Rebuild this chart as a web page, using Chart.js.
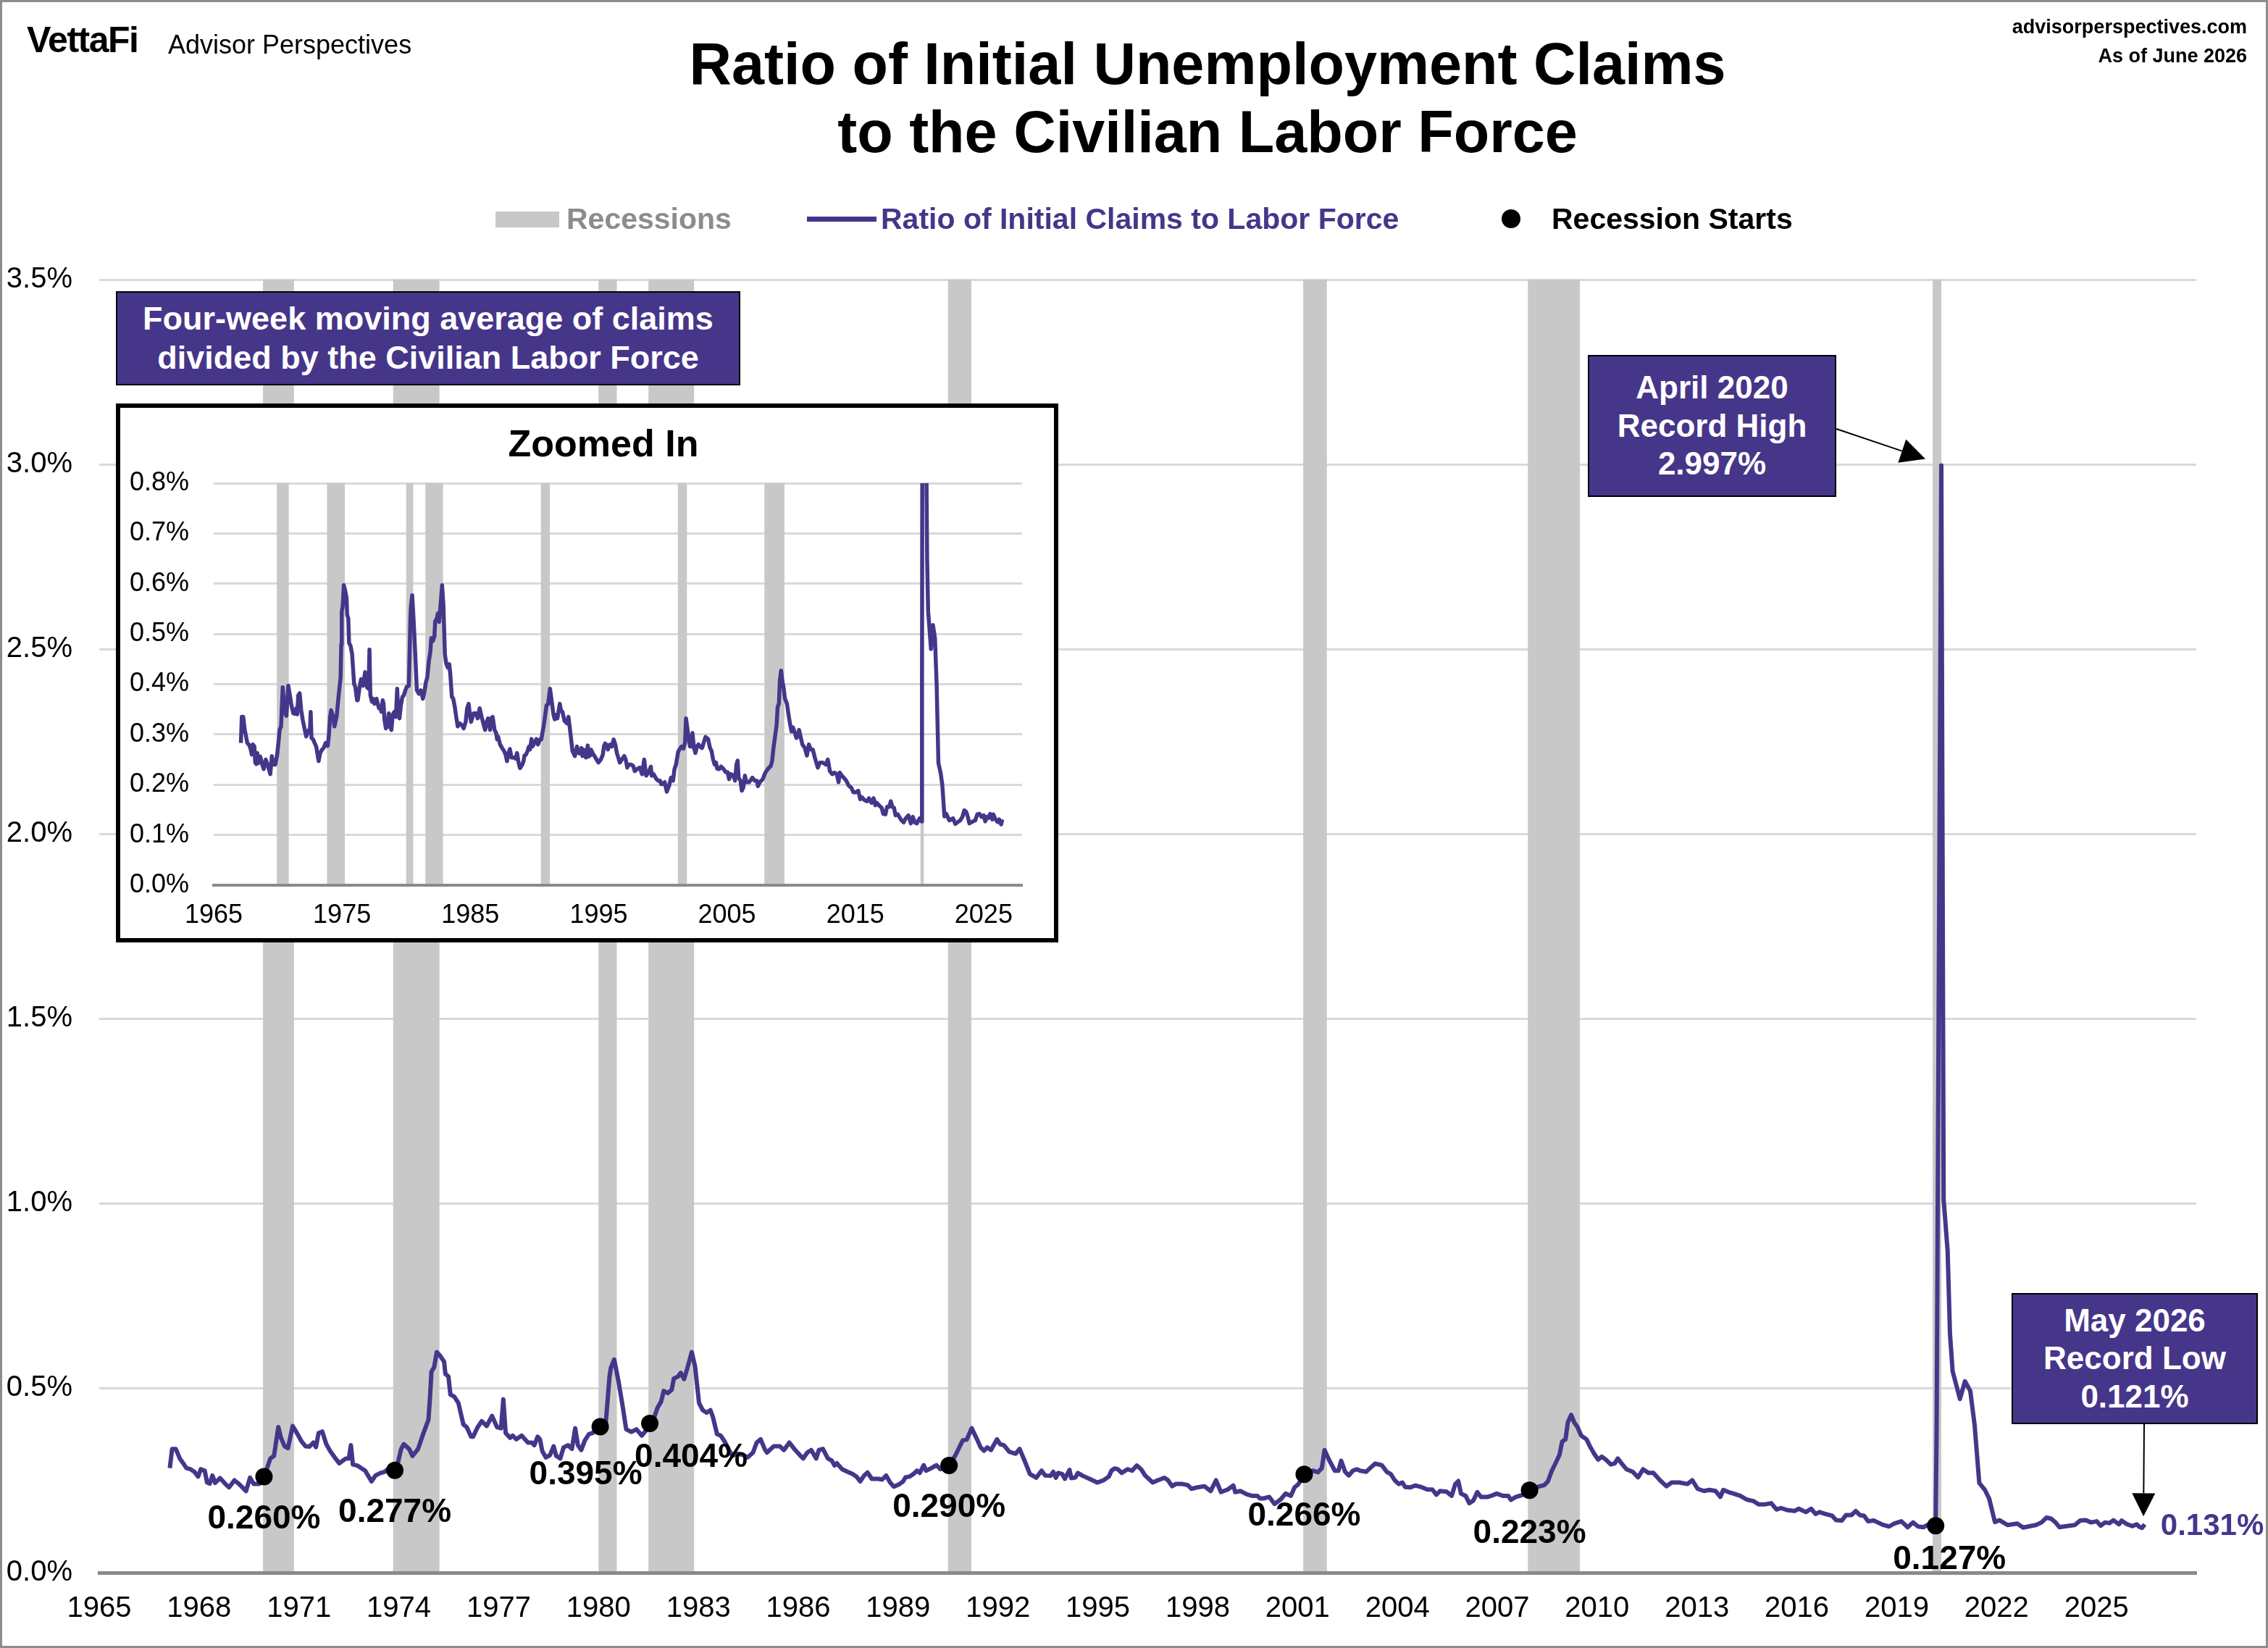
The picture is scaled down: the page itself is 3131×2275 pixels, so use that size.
<!DOCTYPE html>
<html>
<head>
<meta charset="utf-8">
<title>Ratio of Initial Unemployment Claims to the Civilian Labor Force</title>
<script src="https://cdn.jsdelivr.net/npm/chart.js@4.4.1/dist/chart.umd.min.js"></script>
<style>
  html, body { margin: 0; padding: 0; background: #fff; }
  #page { position: relative; width: 3131px; height: 2275px; overflow: hidden;
          font-family: "Liberation Sans", Arial, sans-serif; color: #000; }
  .abs { position: absolute; white-space: nowrap; }
  #main { position: absolute; left: 0; top: 0; }
  #frame { position: absolute; left: 0; top: 0; width: 3131px; height: 2275px;
           box-sizing: border-box; border: 3px solid #8c8c8c; pointer-events: none; }
  .title { left: 1667px; top: 41px; transform: translateX(-50%); font-size: 81px;
           font-weight: bold; line-height: 94px; text-align: center; }
  .purplebox { background: #46368a; color: #fff; font-weight: bold; box-sizing: border-box;
               border: 2px solid #000; display: flex; align-items: center; justify-content: center;
               text-align: center; }
  .legend { font-size: 41px; font-weight: bold; line-height: 41px; }
  #inset { position: absolute; left: 160px; top: 557px; width: 1301px; height: 744px;
           box-sizing: border-box; border: 6px solid #000; background: #fff; }
  #insetCanvas { position: absolute; left: 0; top: 0; }
</style>
</head>
<body>
<div id="page">
  <canvas id="main" width="3131" height="2275"></canvas>

  <!-- header -->
  <div class="abs" style="left:37px; top:30px; font-size:50px; font-weight:bold; line-height:50px; letter-spacing:-1.5px;">VettaFi</div>
  <div class="abs" style="left:232px; top:44px; font-size:36px; line-height:36px;">Advisor Perspectives</div>
  <div class="abs" style="right:29px; top:17px; font-size:27px; font-weight:bold; line-height:40px; text-align:right;">advisorperspectives.com<br>As of June 2026</div>
  <div class="abs title">Ratio of Initial Unemployment Claims<br>to the Civilian Labor Force</div>

  <!-- legend -->
  <div class="abs" style="left:684px; top:292px; width:88px; height:22px; background:#c8c8c8;"></div>
  <div class="abs legend" style="left:782px; top:282px; color:#8c8c8c;">Recessions</div>
  <div class="abs" style="left:1114px; top:299px; width:96px; height:7px; background:#46368a;"></div>
  <div class="abs legend" style="left:1216px; top:282px; color:#46368a;">Ratio of Initial Claims to Labor Force</div>
  <div class="abs" style="left:2073px; top:289px; width:26px; height:26px; border-radius:50%; background:#000;"></div>
  <div class="abs legend" style="left:2142px; top:282px;">Recession Starts</div>

  <!-- notes -->
  <div class="abs purplebox" style="left:160px; top:402px; width:862px; height:130px; font-size:45px; line-height:54px;">Four-week moving average of claims<br>divided by the Civilian Labor Force</div>
  <div class="abs purplebox" style="left:2192px; top:490px; width:343px; height:196px; font-size:44px; line-height:52.5px;">April 2020<br>Record High<br>2.997%</div>
  <div class="abs purplebox" style="left:2777px; top:1785px; width:340px; height:181px; font-size:44px; line-height:52.5px;">May 2026<br>Record Low<br>0.121%</div>

  <!-- zoomed-in inset -->
  <div id="inset"><canvas id="insetCanvas" width="1289" height="732"></canvas></div>
  <div class="abs" style="left:833px; top:586px; transform:translateX(-50%); font-size:52px; font-weight:bold; line-height:52px;">Zoomed In</div>

  <div id="frame"></div>
</div>

<script>
// ---- data (decimal years, percent of labor force) ----
const claimDates = [
  1967.12, 1967.19, 1967.30, 1967.42, 1967.50, 1967.62, 1967.74, 1967.86, 1967.97, 1968.05,
  1968.17, 1968.24, 1968.32, 1968.40, 1968.48, 1968.63, 1968.79, 1968.90, 1969.06, 1969.20,
  1969.41, 1969.53, 1969.64, 1969.80, 1969.95, 1970.07, 1970.14, 1970.25, 1970.38, 1970.46,
  1970.57, 1970.67, 1970.81, 1970.92, 1971.08, 1971.20, 1971.31, 1971.43, 1971.51, 1971.59,
  1971.70, 1971.82, 1971.94, 1972.10, 1972.21, 1972.41, 1972.50, 1972.56, 1972.62, 1972.75,
  1972.99, 1973.18, 1973.30, 1973.45, 1973.57, 1973.72, 1973.88, 1973.97, 1974.07, 1974.15,
  1974.31, 1974.41, 1974.58, 1974.73, 1974.89, 1974.94, 1974.98, 1975.06, 1975.14, 1975.24,
  1975.36, 1975.40, 1975.49, 1975.55, 1975.67, 1975.79, 1975.94, 1976.04, 1976.17, 1976.23,
  1976.37, 1976.49, 1976.64, 1976.80, 1976.95, 1977.07, 1977.14, 1977.21, 1977.34, 1977.42,
  1977.53, 1977.69, 1977.88, 1978.00, 1978.07, 1978.17, 1978.24, 1978.31, 1978.42, 1978.54,
  1978.65, 1978.73, 1978.85, 1978.95, 1979.08, 1979.20, 1979.30, 1979.38, 1979.48, 1979.59,
  1979.71, 1979.82, 1979.94, 1980.05, 1980.21, 1980.33, 1980.37, 1980.47, 1980.60, 1980.72,
  1980.83, 1980.99, 1981.14, 1981.30, 1981.42, 1981.54, 1981.65, 1981.77, 1981.88, 1981.96,
  1982.08, 1982.20, 1982.26, 1982.39, 1982.47, 1982.57, 1982.66, 1982.80, 1982.90, 1983.02,
  1983.13, 1983.25, 1983.36, 1983.44, 1983.56, 1983.67, 1983.79, 1983.90, 1984.02, 1984.17,
  1984.33, 1984.48, 1984.64, 1984.75, 1984.87, 1984.99, 1985.06, 1985.26, 1985.45, 1985.57,
  1985.73, 1985.88, 1986.04, 1986.15, 1986.27, 1986.39, 1986.54, 1986.62, 1986.74, 1986.89,
  1987.01, 1987.09, 1987.16, 1987.32, 1987.48, 1987.63, 1987.75, 1987.86, 1987.98, 1988.08,
  1988.21, 1988.41, 1988.52, 1988.64, 1988.76, 1988.87, 1989.03, 1989.15, 1989.22, 1989.34,
  1989.46, 1989.57, 1989.65, 1989.77, 1989.84, 1990.00, 1990.15, 1990.27, 1990.42, 1990.53,
  1990.73, 1990.87, 1990.94, 1991.06, 1991.21, 1991.37, 1991.48, 1991.58, 1991.68, 1991.79,
  1991.97, 1992.06, 1992.18, 1992.34, 1992.53, 1992.65, 1992.80, 1992.96, 1993.15, 1993.31,
  1993.42, 1993.58, 1993.66, 1993.74, 1993.81, 1993.93, 1994.01, 1994.15, 1994.20, 1994.33,
  1994.40, 1994.55, 1994.75, 1994.98, 1995.17, 1995.33, 1995.41, 1995.50, 1995.60, 1995.72,
  1995.89, 1996.03, 1996.17, 1996.30, 1996.42, 1996.53, 1996.65, 1996.80, 1997.00, 1997.11,
  1997.23, 1997.34, 1997.54, 1997.70, 1997.81, 1998.00, 1998.20, 1998.39, 1998.55, 1998.70,
  1998.90, 1999.07, 1999.13, 1999.28, 1999.48, 1999.63, 1999.79, 1999.87, 1999.98, 2000.15,
  2000.31, 2000.49, 2000.64, 2000.80, 2000.91, 2001.03, 2001.20, 2001.46, 2001.61, 2001.73,
  2001.81, 2001.96, 2002.12, 2002.23, 2002.31, 2002.43, 2002.54, 2002.66, 2002.78, 2002.88,
  2003.06, 2003.18, 2003.33, 2003.53, 2003.68, 2003.80, 2003.92, 2004.04, 2004.15, 2004.23,
  2004.39, 2004.54, 2004.74, 2004.90, 2005.05, 2005.17, 2005.28, 2005.48, 2005.63, 2005.74,
  2005.83, 2005.91, 2006.05, 2006.16, 2006.28, 2006.40, 2006.51, 2006.71, 2006.82, 2006.98,
  2007.17, 2007.33, 2007.41, 2007.56, 2007.79, 2007.97, 2008.21, 2008.41, 2008.52, 2008.64,
  2008.75, 2008.87, 2008.95, 2009.05, 2009.12, 2009.22, 2009.31, 2009.41, 2009.52, 2009.68,
  2009.80, 2009.91, 2010.03, 2010.14, 2010.26, 2010.41, 2010.53, 2010.62, 2010.76, 2010.88,
  2011.07, 2011.23, 2011.38, 2011.54, 2011.69, 2011.89, 2012.08, 2012.24, 2012.47, 2012.71,
  2012.86, 2013.02, 2013.21, 2013.37, 2013.56, 2013.70, 2013.79, 2013.95, 2014.10, 2014.30,
  2014.49, 2014.69, 2014.85, 2015.05, 2015.23, 2015.39, 2015.52, 2015.73, 2015.93, 2016.06,
  2016.27, 2016.43, 2016.56, 2016.68, 2016.85, 2017.06, 2017.18, 2017.35, 2017.48, 2017.64,
  2017.77, 2017.89, 2018.02, 2018.14, 2018.31, 2018.43, 2018.60, 2018.77, 2018.93, 2019.14,
  2019.33, 2019.49, 2019.64, 2019.80, 2020.01, 2020.17, 2020.20, 2020.34, 2020.41, 2020.53,
  2020.60, 2020.68, 2020.90, 2021.05, 2021.21, 2021.34, 2021.48, 2021.65, 2021.78, 2021.95,
  2022.09, 2022.33, 2022.62, 2022.80, 2023.01, 2023.18, 2023.35, 2023.50, 2023.64, 2023.77,
  2023.89, 2024.10, 2024.35, 2024.51, 2024.68, 2024.84, 2025.01, 2025.13, 2025.26, 2025.39,
  2025.51, 2025.68, 2025.76, 2025.92, 2026.08, 2026.21, 2026.29, 2026.37, 2026.45
];
const claimRatio = [
  0.283, 0.335, 0.335, 0.309, 0.299, 0.283, 0.280, 0.273, 0.260, 0.280,
  0.276, 0.244, 0.241, 0.263, 0.243, 0.256, 0.240, 0.231, 0.250, 0.240,
  0.221, 0.257, 0.240, 0.240, 0.260, 0.290, 0.309, 0.316, 0.394, 0.365,
  0.342, 0.337, 0.397, 0.381, 0.355, 0.342, 0.341, 0.352, 0.340, 0.378,
  0.382, 0.348, 0.329, 0.309, 0.296, 0.309, 0.309, 0.345, 0.293, 0.290,
  0.276, 0.247, 0.263, 0.270, 0.273, 0.283, 0.277, 0.296, 0.335, 0.348,
  0.335, 0.316, 0.335, 0.375, 0.414, 0.479, 0.544, 0.556, 0.597, 0.587,
  0.571, 0.538, 0.531, 0.482, 0.476, 0.459, 0.401, 0.394, 0.368, 0.368,
  0.394, 0.410, 0.397, 0.424, 0.394, 0.391, 0.469, 0.378, 0.365, 0.371,
  0.361, 0.371, 0.352, 0.352, 0.345, 0.368, 0.361, 0.329, 0.312, 0.318,
  0.342, 0.316, 0.309, 0.339, 0.345, 0.335, 0.391, 0.345, 0.332, 0.358,
  0.375, 0.378, 0.388, 0.395, 0.397, 0.531, 0.554, 0.577, 0.518, 0.453,
  0.388, 0.381, 0.388, 0.371, 0.384, 0.404, 0.414, 0.446, 0.463, 0.492,
  0.486, 0.495, 0.525, 0.531, 0.541, 0.524, 0.551, 0.597, 0.558, 0.459,
  0.440, 0.433, 0.440, 0.420, 0.375, 0.371, 0.355, 0.335, 0.316, 0.322,
  0.319, 0.312, 0.325, 0.352, 0.361, 0.335, 0.325, 0.342, 0.342, 0.332,
  0.352, 0.335, 0.319, 0.309, 0.325, 0.332, 0.309, 0.332, 0.335, 0.309,
  0.303, 0.290, 0.296, 0.280, 0.273, 0.267, 0.260, 0.247, 0.263, 0.271,
  0.254, 0.254, 0.252, 0.263, 0.244, 0.233, 0.239, 0.247, 0.258, 0.260,
  0.267, 0.276, 0.270, 0.291, 0.276, 0.283, 0.291, 0.280, 0.290, 0.290,
  0.319, 0.345, 0.358, 0.360, 0.391, 0.361, 0.339, 0.330, 0.339, 0.332,
  0.361, 0.348, 0.345, 0.327, 0.322, 0.335, 0.303, 0.267, 0.257, 0.276,
  0.263, 0.262, 0.273, 0.257, 0.270, 0.267, 0.254, 0.278, 0.256, 0.258,
  0.270, 0.262, 0.254, 0.244, 0.250, 0.260, 0.276, 0.282, 0.280, 0.270,
  0.280, 0.276, 0.290, 0.280, 0.263, 0.254, 0.244, 0.250, 0.257, 0.250,
  0.234, 0.240, 0.240, 0.237, 0.227, 0.231, 0.234, 0.221, 0.250, 0.218,
  0.225, 0.236, 0.218, 0.221, 0.212, 0.208, 0.208, 0.201, 0.201, 0.205,
  0.186, 0.198, 0.214, 0.208, 0.231, 0.240, 0.266, 0.276, 0.272, 0.283,
  0.332, 0.303, 0.276, 0.276, 0.303, 0.273, 0.263, 0.276, 0.280, 0.276,
  0.273, 0.283, 0.295, 0.291, 0.273, 0.267, 0.250, 0.240, 0.244, 0.232,
  0.231, 0.236, 0.231, 0.225, 0.225, 0.211, 0.221, 0.219, 0.208, 0.240,
  0.248, 0.214, 0.208, 0.188, 0.195, 0.218, 0.205, 0.205, 0.208, 0.214,
  0.208, 0.208, 0.197, 0.205, 0.211, 0.223, 0.232, 0.237, 0.247, 0.276,
  0.296, 0.319, 0.355, 0.361, 0.407, 0.427, 0.407, 0.394, 0.371, 0.361,
  0.339, 0.322, 0.306, 0.314, 0.306, 0.293, 0.296, 0.309, 0.293, 0.280,
  0.273, 0.258, 0.280, 0.270, 0.270, 0.250, 0.234, 0.244, 0.244, 0.240,
  0.250, 0.227, 0.221, 0.224, 0.221, 0.205, 0.224, 0.218, 0.214, 0.208,
  0.198, 0.194, 0.185, 0.185, 0.188, 0.171, 0.175, 0.169, 0.167, 0.173,
  0.164, 0.173, 0.159, 0.164, 0.159, 0.154, 0.142, 0.141, 0.156, 0.156,
  0.167, 0.156, 0.154, 0.139, 0.141, 0.136, 0.129, 0.125, 0.133, 0.139,
  0.123, 0.136, 0.125, 0.123, 0.133, 0.127, 0.400, 2.997, 1.010, 0.870,
  0.647, 0.545, 0.470, 0.518, 0.492, 0.400, 0.243, 0.224, 0.200, 0.137,
  0.142, 0.129, 0.133, 0.122, 0.126, 0.129, 0.136, 0.149, 0.146, 0.136,
  0.123, 0.126, 0.129, 0.141, 0.142, 0.136, 0.139, 0.127, 0.136, 0.134,
  0.142, 0.131, 0.141, 0.131, 0.126, 0.131, 0.124, 0.121, 0.131
];

// NBER recessions
const recessionStarts = [1969.92, 1973.83, 1980.00, 1981.50, 1990.50, 2001.17, 2007.92, 2020.08];
const recessionEnds   = [1970.85, 1975.22, 1980.55, 1982.87, 1991.20, 2001.88, 2009.48, 2020.34];

// ratio at the start of each recession
const startDates  = [1969.95, 1973.88, 1980.05, 1981.54, 1990.53, 2001.20, 2007.97, 2020.17];
const startValues = [0.260, 0.277, 0.395, 0.404, 0.290, 0.266, 0.223, 0.127];

const mainYearTicks  = [1965, 1968, 1971, 1974, 1977, 1980, 1983, 1986, 1989, 1992, 1995, 1998, 2001, 2004, 2007, 2010, 2013, 2016, 2019, 2022, 2025];
const mainPctTicks   = [0, 0.5, 1.0, 1.5, 2.0, 2.5, 3.0, 3.5];
const insetYearTicks = [1965, 1975, 1985, 1995, 2005, 2015, 2025];
const insetPctTicks  = [0, 0.1, 0.2, 0.3, 0.4, 0.5, 0.6, 0.7, 0.8];

// ---- styling ----
const PURPLE = '#46368a';
const RECESSION_GRAY = '#c8c8c8';
const GRID_GRAY = '#d9d9d9';
const AXIS_GRAY = '#8a8a8a';
const FONT = '"Liberation Sans", Arial, sans-serif';
// label nudges for the recession-start values (px)
const startLabelOffsets = [[0, 59], [0, 59], [-20, 67], [57, 47], [0, 58], [0, 58], [0, 60], [19, 47]];

Chart.defaults.font.family = FONT;
Chart.defaults.color = '#000';

const claimPoints = claimDates.map((d, i) => ({ x: d, y: claimRatio[i] }));
const startPoints = startDates.map((d, i) => ({ x: d, y: startValues[i] }));

// shaded recession bands, drawn over the grid but under the line
const recessionBands = {
  id: 'recessionBands',
  beforeDatasetsDraw(chart) {
    const { ctx, chartArea, scales: { x, y } } = chart;
    const top = y.getPixelForValue(y.max);
    const bottom = y.getPixelForValue(0) - 2;
    ctx.save();
    ctx.beginPath();
    ctx.rect(chartArea.left, chartArea.top, chartArea.width, chartArea.height);
    ctx.clip();
    ctx.fillStyle = RECESSION_GRAY;
    recessionStarts.forEach((s, i) => {
      const x0 = x.getPixelForValue(s);
      const x1 = x.getPixelForValue(recessionEnds[i]);
      ctx.fillRect(x0, top, x1 - x0, bottom - top);
    });
    ctx.restore();
  }
};

function drawArrow(ctx, x0, y0, x1, y1, len, half) {
  const a = Math.atan2(y1 - y0, x1 - x0);
  const bx = x1 - len * Math.cos(a), by = y1 - len * Math.sin(a);
  ctx.beginPath();
  ctx.moveTo(x0, y0);
  ctx.lineTo(bx, by);
  ctx.stroke();
  ctx.beginPath();
  ctx.moveTo(x1, y1);
  ctx.lineTo(bx + half * Math.sin(a), by - half * Math.cos(a));
  ctx.lineTo(bx - half * Math.sin(a), by + half * Math.cos(a));
  ctx.closePath();
  ctx.fill();
}

// value labels under the dots, latest value, and the two call-out arrows
const mainLabels = {
  id: 'mainLabels',
  afterDatasetsDraw(chart) {
    const { ctx, scales: { x, y } } = chart;
    ctx.save();
    ctx.font = 'bold 46px ' + FONT;
    ctx.fillStyle = '#000';
    ctx.textAlign = 'center';
    ctx.textBaseline = 'middle';
    startDates.forEach((d, i) => {
      const [dx, dy] = startLabelOffsets[i];
      ctx.fillText(startValues[i].toFixed(3) + '%', x.getPixelForValue(d) + dx, y.getPixelForValue(startValues[i]) + dy);
    });

    const last = claimDates.length - 1;
    ctx.font = 'bold 42px ' + FONT;
    ctx.fillStyle = PURPLE;
    ctx.textAlign = 'left';
    ctx.fillText(claimRatio[last].toFixed(3) + '%', x.getPixelForValue(claimDates[last]) + 22, y.getPixelForValue(claimRatio[last]) + 3);

    // arrows from the boxes to the record high / record low
    const hi = claimRatio.indexOf(Math.max(...claimRatio));
    const lo = claimRatio.indexOf(Math.min(...claimRatio));
    ctx.strokeStyle = '#000';
    ctx.fillStyle = '#000';
    ctx.lineWidth = 2;
    drawArrow(ctx, 2535, 592, x.getPixelForValue(claimDates[hi]) - 22, y.getPixelForValue(claimRatio[hi]) - 9, 34, 17);
    drawArrow(ctx, 2960, 1966, x.getPixelForValue(claimDates[lo]) + 2, y.getPixelForValue(claimRatio[lo]) - 16, 32, 16);
    ctx.restore();
  }
};

new Chart(document.getElementById('main'), {
  type: 'line',
  data: {
    datasets: [
      {
        label: 'Recession Starts',
        data: startPoints,
        showLine: false,
        pointRadius: 12,
        pointBackgroundColor: '#000',
        pointBorderWidth: 0,
        order: 0
      },
      {
        label: 'Ratio of Initial Claims to Labor Force',
        data: claimPoints,
        borderColor: PURPLE,
        borderWidth: 6,
        borderJoinStyle: 'round',
        pointRadius: 0,
        tension: 0,
        order: 1
      }
    ]
  },
  options: {
    responsive: false,
    animation: false,
    devicePixelRatio: 1,
    layout: { padding: { left: 0, top: 386, right: 99, bottom: 0 }, autoPadding: false },
    plugins: { legend: { display: false }, tooltip: { enabled: false } },
    scales: {
      x: {
        type: 'linear',
        min: 1965,
        max: 2028,
        afterBuildTicks: (s) => { s.ticks = mainYearTicks.map(v => ({ value: v })); },
        afterFit: (s) => { s.height = 104; },
        grid: { display: false, drawTicks: false },
        border: { display: true, color: AXIS_GRAY, width: 5 },
        ticks: { font: { size: 40 }, color: '#000', padding: 26, maxRotation: 0, autoSkip: false, callback: (v) => String(v) }
      },
      y: {
        min: 0,
        max: 3.5,
        afterBuildTicks: (s) => { s.ticks = mainPctTicks.map(v => ({ value: v })); },
        afterFit: (s) => { s.width = 137; },
        grid: { color: GRID_GRAY, lineWidth: 3, drawTicks: false },
        border: { display: false },
        ticks: { font: { size: 40 }, color: '#000', padding: 37, callback: (v) => v.toFixed(1) + '%' }
      }
    }
  },
  plugins: [recessionBands, mainLabels]
});

// Zoomed-in inset: same series, y capped at 0.8%
new Chart(document.getElementById('insetCanvas'), {
  type: 'line',
  data: {
    datasets: [{
      data: claimPoints,
      borderColor: PURPLE,
      borderWidth: 5.5,
      borderJoinStyle: 'round',
      pointRadius: 0,
      tension: 0,
      clip: 0
    }]
  },
  options: {
    responsive: false,
    animation: false,
    devicePixelRatio: 1,
    layout: { padding: { left: 0, top: 104, right: 44, bottom: 0 }, autoPadding: false },
    plugins: { legend: { display: false }, tooltip: { enabled: false } },
    scales: {
      x: {
        type: 'linear',
        min: 1965,
        max: 2028,
        afterBuildTicks: (s) => { s.ticks = insetYearTicks.map(v => ({ value: v })); },
        afterFit: (s) => { s.height = 73; },
        grid: { display: false, drawTicks: false },
        border: { display: true, color: AXIS_GRAY, width: 4 },
        ticks: { font: { size: 36 }, color: '#000', padding: 20, maxRotation: 0, autoSkip: false, callback: (v) => String(v) }
      },
      y: {
        min: 0,
        max: 0.8,
        afterBuildTicks: (s) => { s.ticks = insetPctTicks.map(v => ({ value: v })); },
        afterFit: (s) => { s.width = 129; },
        grid: { color: GRID_GRAY, lineWidth: 3, drawTicks: false },
        border: { display: false },
        ticks: { font: { size: 36 }, color: '#000', padding: 34, callback: (v) => v.toFixed(1) + '%' }
      }
    }
  },
  plugins: [recessionBands]
});
</script>
</body>
</html>
